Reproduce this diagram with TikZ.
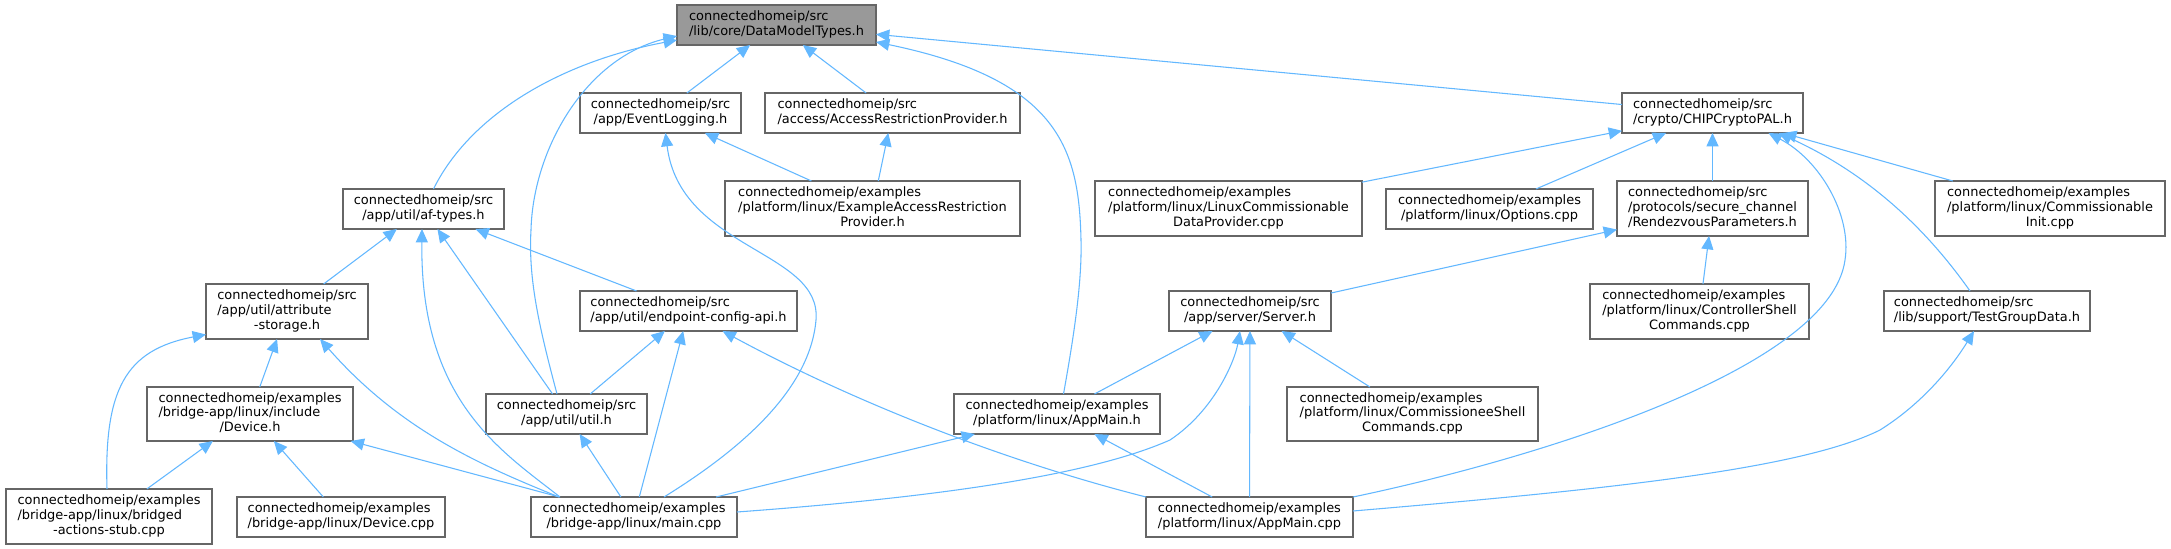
\documentclass[tikz,border=0pt]{standalone}
\usepackage{fontspec}
\setmainfont{DejaVu Sans}
\usetikzlibrary{arrows.meta,calc}
\definecolor{edgec}{HTML}{63B8FF}
\definecolor{boxc}{HTML}{666666}
\definecolor{rootc}{HTML}{999999}
\newcommand\twol[2]{\begin{tabular}{@{}l@{}}#1\\\multicolumn{1}{@{}c@{}}{#2}\end{tabular}}
\newcommand\threel[3]{\begin{tabular}{@{}l@{}}#1\\#2\\\multicolumn{1}{@{}c@{}}{#3}\end{tabular}}
\newcommand\bx[7][box]{\node[#1,minimum width={(#5-#3)*0.75pt},minimum height={(#6-#4)*0.75pt}] (#2) at ({(#3+#5)/2},{(#4+#6)/2}) {#7};}
\tikzset{
  box/.style={draw=boxc, line width=0.95pt, fill=white, inner sep=0pt, outer sep=0pt,
    font=\fontsize{9.7pt}{11pt}\selectfont},
  root/.style={box, fill=rootc},
  edge/.style={draw=edgec, line width=0.8pt, -{Triangle[length=10pt,width=9pt]}},
}
\begin{document}
\begin{tikzpicture}[x=0.75pt,y=-0.75pt]
\fill[white] (0,0) rectangle (2171,549);
\useasboundingbox (0,0) rectangle (2171,549);
% nodes
\bx[root]{dmt}{677}{5}{876}{45}{\twol{connectedhomeip/src}{/lib/core/DataModelTypes.h}}
\bx{el}{580}{93}{741}{133}{\twol{connectedhomeip/src}{/app/EventLogging.h}}
\bx{arp}{765}{93}{1020}{133}{\twol{connectedhomeip/src}{/access/AccessRestrictionProvider.h}}
\bx{ccp}{1622}{93}{1803}{133}{\twol{connectedhomeip/src}{/crypto/CHIPCryptoPAL.h}}
\bx{af}{343}{189}{504}{229}{\twol{connectedhomeip/src}{/app/util/af-types.h}}
\bx{earp}{725}{181}{1020}{236}{\threel{connectedhomeip/examples}{/platform/linux/ExampleAccessRestriction}{Provider.h}}
\bx{lcdp}{1095}{181}{1362}{236}{\threel{connectedhomeip/examples}{/platform/linux/LinuxCommissionable}{DataProvider.cpp}}
\bx{opt}{1386}{189}{1593}{229}{\twol{connectedhomeip/examples}{/platform/linux/Options.cpp}}
\bx{rp}{1617}{181}{1808}{236}{\threel{connectedhomeip/src}{/protocols/secure\_channel}{/RendezvousParameters.h}}
\bx{ci}{1935}{181}{2165}{236}{\threel{connectedhomeip/examples}{/platform/linux/Commissionable}{Init.cpp}}
\bx{as}{206}{284}{368}{339}{\threel{connectedhomeip/src}{/app/util/attribute}{-storage.h}}
\bx{eca}{580}{291}{797}{331}{\twol{connectedhomeip/src}{/app/util/endpoint-config-api.h}}
\bx{srv}{1169}{291}{1331}{331}{\twol{connectedhomeip/src}{/app/server/Server.h}}
\bx{cs}{1590}{284}{1809}{339}{\threel{connectedhomeip/examples}{/platform/linux/ControllerShell}{Commands.cpp}}
\bx{tgd}{1884}{291}{2090}{331}{\twol{connectedhomeip/src}{/lib/support/TestGroupData.h}}
\bx{dh}{147}{387}{353}{441}{\threel{connectedhomeip/examples}{/bridge-app/linux/include}{/Device.h}}
\bx{util}{486}{394}{647}{434}{\twol{connectedhomeip/src}{/app/util/util.h}}
\bx{amh}{954}{394}{1160}{434}{\twol{connectedhomeip/examples}{/platform/linux/AppMain.h}}
\bx{ces}{1287}{387}{1538}{441}{\threel{connectedhomeip/examples}{/platform/linux/CommissioneeShell}{Commands.cpp}}
\bx{bas}{6}{489}{212}{544}{\threel{connectedhomeip/examples}{/bridge-app/linux/bridged}{-actions-stub.cpp}}
\bx{dc}{237}{497}{445}{537}{\twol{connectedhomeip/examples}{/bridge-app/linux/Device.cpp}}
\bx{mc}{531}{497}{737}{537}{\twol{connectedhomeip/examples}{/bridge-app/linux/main.cpp}}
\bx{amc}{1146}{497}{1353}{537}{\twol{connectedhomeip/examples}{/platform/linux/AppMain.cpp}}
% straight edges
\draw[edge] (el) -- (dmt);
\draw[edge] (arp) -- (dmt);
\draw[edge] (ccp) -- (dmt);
\draw[edge] (earp) -- (el);
\draw[edge] (earp) -- (arp);
\draw[edge] (lcdp) -- (ccp);
\draw[edge] (opt) -- (ccp);
\draw[edge] (rp) -- (ccp);
\draw[edge] (ci) -- (ccp);
\draw[edge] (srv) -- (rp);
\draw[edge] (cs) -- (rp);
\draw[edge] (as) -- (af);
\draw[edge] (util) -- (af);
\draw[edge] (eca) -- (af);
\draw[edge] (dh) -- (as);
\draw[edge] (bas) -- (dh);
\draw[edge] (dc) -- (dh);
\draw[edge] (mc) -- (dh);
\draw[edge] (util) -- (eca);
\draw[edge] (mc) -- (eca);
\draw[edge] (mc) -- (util);
\draw[edge] (amh) -- (srv);
\draw[edge] (amc) -- (srv);
\draw[edge] (ces) -- (srv);
\draw[edge] (mc) -- (amh);
\draw[edge] (amc) -- (amh);
% curved edges
\draw[edge] ($(af.north)+(10,0)$) .. controls (470,115) and (560,62) .. ($(dmt.west)+(0,15)$);
\draw[edge] ($(util.north)+(-9.5,0)$) .. controls (540,330) and (528,280) .. (531,230)
  .. controls (533,150) and (585,58) .. ($(dmt.west)+(0,11)$);
\draw[edge] ($(amh.north)+(6.5,0)$) .. controls (1075,330) and (1082,280) .. (1081,240)
  .. controls (1079,150) and (1060,80) .. ($(dmt.east)+(0,17)$);
\draw[edge] ($(mc.north)+(30,0)$) .. controls (740,450) and (810,390) .. (816,320)
  .. controls (822,250) and (680,250) .. ($(el.south)+(5,0)$);
\draw[edge] ($(mc.north)+(-74,0)$) .. controls (500,450) and (420,400) .. ($(af.south)+(-1.5,0)$);
\draw[edge] ($(mc.north)+(-75,0)$) .. controls (480,465) and (400,430) .. ($(as.south)+(33,0)$);
\draw[edge] ($(bas.north)+(-2,0)$) .. controls (104,390) and (125,350) .. ($(as.west)+(0,23)$);
\draw[edge] ($(mc.east)+(0,-5)$) .. controls (900,500) and (1080,480) .. (1170,440)
  .. controls (1215,410) and (1235,360) .. ($(srv.south)+(-10,0)$);
\draw[edge] (amc.north west) .. controls (1000,460) and (850,400) .. ($(eca.south)+(34,0)$);
\draw[edge] (amc.north east) .. controls (1530,460) and (1830,370) .. (1845,260)
  .. controls (1852,215) and (1820,160) .. ($(ccp.south)+(56,0)$);
\draw[edge] ($(amc.east)+(0,-6)$) .. controls (1600,490) and (1800,470) .. (1880,430)
  .. controls (1920,405) and (1950,370) .. ($(tgd.south)+(-13,0)$);
\draw[edge] ($(tgd.north)+(-17,0)$) .. controls (1920,220) and (1860,170) .. ($(ccp.south)+(66,0)$);
\end{tikzpicture}
\end{document}
